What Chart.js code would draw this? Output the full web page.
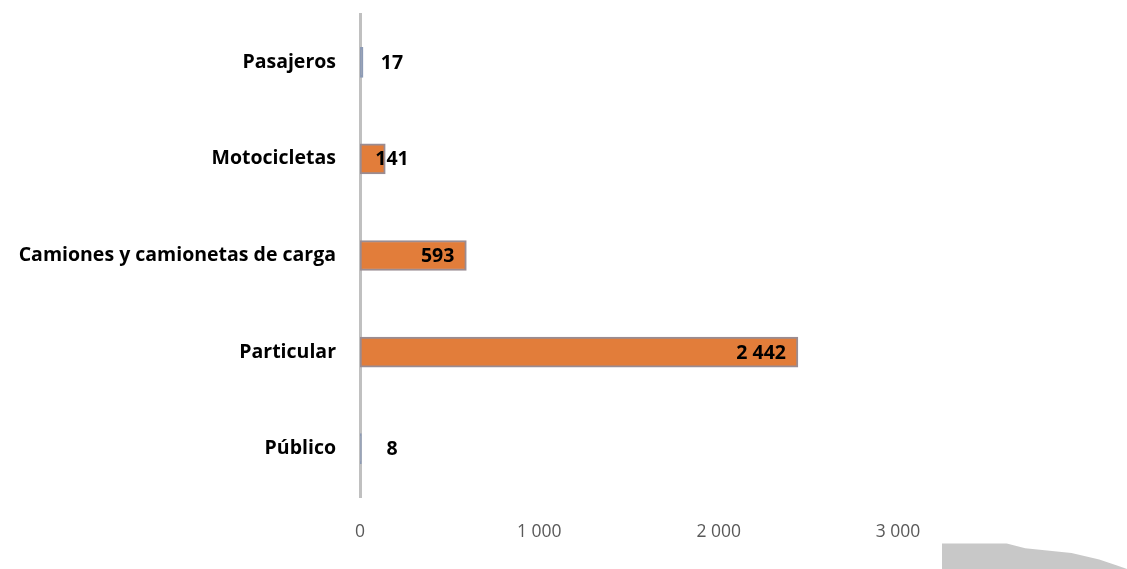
<!DOCTYPE html>
<html>
<head>
<meta charset="utf-8">
<script src="https://cdn.jsdelivr.net/npm/chart.js@4"></script>
<style>
    html, body { margin: 0; padding: 0; background: #fff; }
    #wrap { position: relative; width: 1127px; height: 569px; }
    #shade {
        position: absolute; left: 942px; top: 537px; width: 185px; height: 32px;
        background: #c8c8c8;
        clip-path: polygon(0 20%, 35% 20%, 45% 35%, 70% 50%, 85% 70%, 95% 90%, 100% 100%, 0 100%);
    }
</style>
</head>
<body>
<div id="wrap">
    <canvas id="chart" width="1127" height="569"></canvas>
    <div id="shade"></div>
</div>
<script>
let categories = ['Pasajeros', 'Motocicletas', 'Camiones y camionetas de carga', 'Particular', 'Público'];
let values = [17, 141, 593, 2442, 8];
let tickValues = [0, 1000, 2000, 3000];

let formatNumber = n => String(n).replace(/\B(?=(\d{3})+(?!\d))/g, ' ');

let barLabels = {
    id: 'barLabels',
    afterDatasetsDraw(chart) {
        let ctx = chart.ctx;
        let meta = chart.getDatasetMeta(0);
        let base = chart.scales.x.getPixelForValue(0);
        ctx.save();
        ctx.font = 'bold 19.5px "Open Sans", sans-serif';
        ctx.fillStyle = '#000';
        ctx.textBaseline = 'middle';
        meta.data.forEach((bar, i) => {
            let v = values[i];
            if (v >= 500) {
                ctx.textAlign = 'right';
                ctx.fillText(formatNumber(v), bar.x - 12, bar.y + 1);
            } else {
                ctx.textAlign = 'center';
                ctx.fillText(formatNumber(v), base + 32, bar.y + 1);
            }
        });
        ctx.restore();
    }
};

let ctx = document.getElementById('chart').getContext('2d');
new Chart(ctx, {
    type: 'bar',
    data: {
        labels: categories,
        datasets: [{
            data: values,
            backgroundColor: values.map(v => v < 50 ? '#8d9bb5' : '#e27d3a'),
            borderColor: values.map(v => v < 50 ? '#8d9bb5' : '#9a8c92'),
            borderWidth: 2,
            borderSkipped: false,
            barThickness: 30
        }]
    },
    options: {
        indexAxis: 'y',
        responsive: false,
        animation: false,
        layout: {
            padding: {top: 14, right: 229, bottom: 0, left: 10}
        },
        plugins: {
            legend: {display: false},
            tooltip: {enabled: false}
        },
        scales: {
            x: {
                min: 0,
                max: 3000,
                afterBuildTicks: scale => {
                    scale.ticks = tickValues.map(v => ({value: v}));
                },
                afterFit: scale => { scale.height = 72; },
                grid: {display: false, drawTicks: false},
                border: {display: false},
                ticks: {
                    padding: 25,
                    color: '#595959',
                    font: {family: '"Open Sans", sans-serif', size: 17.5},
                    callback: v => formatNumber(v)
                }
            },
            y: {
                afterFit: scale => {
                    scale.width = 350;
                    scale.paddingTop = 0;
                    scale.paddingBottom = 0;
                },
                grid: {display: false, drawTicks: false},
                border: {display: true, color: '#c0c0c0', width: 3},
                ticks: {
                    padding: 24,
                    color: '#000',
                    font: {family: '"Open Sans", sans-serif', size: 19.5, weight: 'bold'}
                }
            }
        }
    },
    plugins: [barLabels]
});
</script>
</body>
</html>
